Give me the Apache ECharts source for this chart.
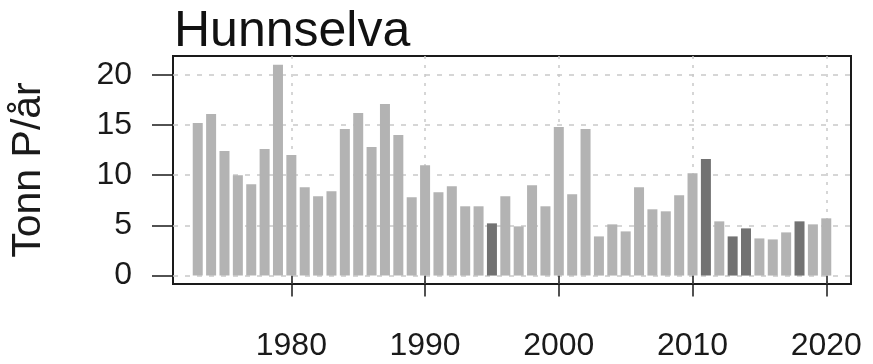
<!DOCTYPE html>
<html>
<head>
<meta charset="utf-8">
<script src="https://cdn.jsdelivr.net/npm/echarts@6/dist/echarts.min.js"></script>
<style>
  html, body { margin: 0; padding: 0; background: #fff; }
  #chart { width: 873px; height: 364px; }
</style>
</head>
<body>
<div id="chart"></div>
<script>
// Annual phosphorus load, Hunnselva (tonnes P per year)
const years = [
  1973, 1974, 1975, 1976, 1977, 1978, 1979, 1980, 1981, 1982,
  1983, 1984, 1985, 1986, 1987, 1988, 1989, 1990, 1991, 1992,
  1993, 1994, 1995, 1996, 1997, 1998, 1999, 2000, 2001, 2002,
  2003, 2004, 2005, 2006, 2007, 2008, 2009, 2010, 2011, 2012,
  2013, 2014, 2015, 2016, 2017, 2018, 2019, 2020
];
const loads = [
  15.2, 16.1, 12.4, 10.0, 9.1, 12.6, 21.0, 12.0, 8.8, 7.9,
  8.4, 14.6, 16.2, 12.8, 17.1, 14.0, 7.8, 11.0, 8.3, 8.9,
  6.9, 6.9, 5.2, 7.9, 4.9, 9.0, 6.9, 14.8, 8.1, 14.6,
  3.9, 5.1, 4.4, 8.8, 6.6, 6.4, 8.0, 10.2, 11.6, 5.4,
  3.9, 4.7, 3.7, 3.6, 4.3, 5.4, 5.1, 5.7
];
// Years drawn in the darker shade
const highlightYears = [1995, 2011, 2013, 2014, 2018];

const xTicks = [1980, 1990, 2000, 2010, 2020];
const yTicks = [0, 5, 10, 15, 20];

const lightBar = '#b3b3b3';
const darkBar = '#727272';
const gridColor = '#c9c9c9';
const font = 'Liberation Sans, Arial, Helvetica, sans-serif';

const barData = years.map((y, i) => ({
  value: [y, loads[i]],
  itemStyle: { color: highlightYears.includes(y) ? darkBar : lightBar }
}));

const chart = echarts.init(document.getElementById('chart'), null, { renderer: 'canvas' });
chart.setOption({
  animation: false,
  backgroundColor: '#ffffff',
  title: {
    text: 'Hunnselva',
    left: 174,
    top: 7,
    padding: 0,
    textStyle: { fontFamily: font, fontSize: 50, fontWeight: 'normal', color: '#111' }
  },
  grid: {
    left: 173, right: 22, top: 56, bottom: 80,
    show: true, borderColor: '#1a1a1a', borderWidth: 2, backgroundColor: 'transparent'
  },
  xAxis: {
    type: 'value',
    min: 1971.15,
    max: 2021.85,
    axisLine: { show: false },
    axisTick: {
      show: true, length: 21, customValues: xTicks,
      lineStyle: { color: '#1a1a1a', width: 1.5 }
    },
    axisLabel: {
      customValues: xTicks, margin: 46,
      formatter: v => String(v),
      fontFamily: font, fontSize: 32, color: '#1a1a1a'
    },
    splitLine: {
      show: true,
      lineStyle: { color: gridColor, width: 1.5, type: [3, 6] }
    }
  },
  yAxis: {
    type: 'value',
    min: -0.84,
    max: 21.87,
    name: 'Tonn P/år',
    nameLocation: 'middle',
    nameGap: 124,
    nameTextStyle: { fontFamily: font, fontSize: 41, color: '#1a1a1a' },
    axisLine: { show: false },
    axisTick: {
      show: true, length: 21, customValues: yTicks,
      lineStyle: { color: '#1a1a1a', width: 1.5 }
    },
    axisLabel: {
      customValues: yTicks, margin: 41,
      fontFamily: font, fontSize: 32, color: '#1a1a1a'
    },
    splitLine: {
      show: true,
      lineStyle: { color: gridColor, width: 1.5, type: [5, 7] }
    }
  },
  series: [{
    type: 'bar',
    data: barData,
    barWidth: 10,
    z: 3
  }]
});
</script>
</body>
</html>
